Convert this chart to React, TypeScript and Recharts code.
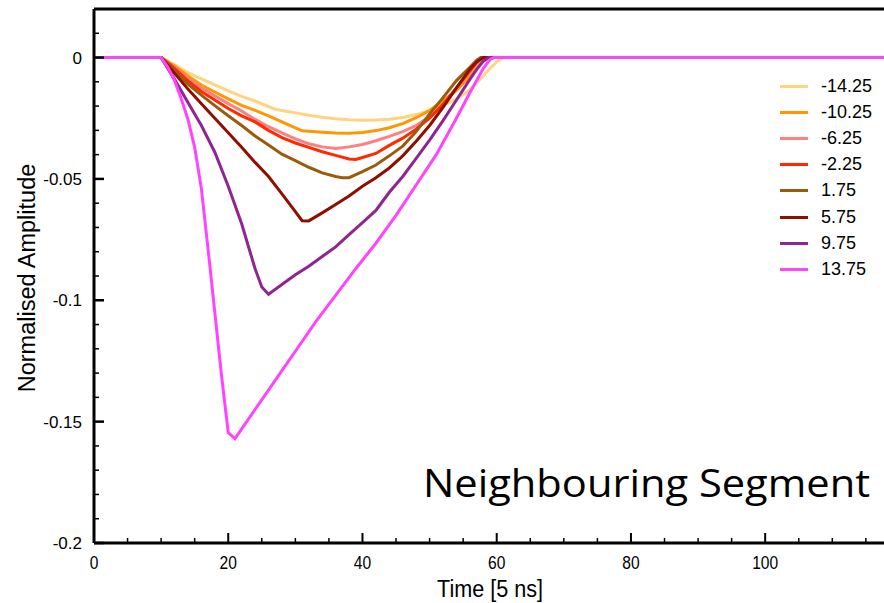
import { LineChart, Line, XAxis, YAxis, ReferenceLine } from 'recharts'

// series names and colours, in drawing order
const labels = ['-14.25', '-10.25', '-6.25', '-2.25', '1.75', '5.75', '9.75', '13.75']
const colours = ['#FFD47E', '#FF9700', '#FF8080', '#FF2A00', '#9C5B0C', '#8E0F00', '#8F2590', '#FF44FF']

// [time (5 ns), normalised amplitude]
const p1425 = [[0, 0], [10, 0], [12, -0.003], [14, -0.0062], [16, -0.0088], [18, -0.0113], [20, -0.0137], [22, -0.016], [24, -0.0179], [26, -0.0202], [27, -0.0213], [28, -0.0218], [30, -0.0228], [32, -0.0238], [34, -0.0246], [36, -0.0252], [38, -0.0256], [40, -0.0258], [42, -0.0257], [44, -0.0254], [46, -0.0247], [48, -0.0235], [50, -0.0218], [52, -0.0196], [54, -0.0172], [56, -0.0133], [57, -0.0105], [58, -0.0075], [59, -0.0045], [60, -0.0017], [61, 0], [118, 0]]
const p1025 = [[0, 0], [10, 0], [12, -0.0035], [14, -0.0076], [16, -0.0113], [18, -0.0142], [20, -0.017], [22, -0.0197], [24, -0.0218], [26, -0.024], [28, -0.0265], [30, -0.029], [31, -0.0302], [32, -0.0304], [34, -0.0308], [36, -0.0311], [38, -0.0312], [40, -0.0309], [42, -0.0301], [44, -0.0289], [46, -0.0272], [48, -0.0248], [50, -0.0218], [52, -0.0178], [54, -0.0135], [56, -0.0078], [57, -0.0045], [58, -0.0012], [58.6, 0], [118, 0]]
const p625 = [[0, 0], [10, 0], [12, -0.004], [14, -0.0086], [16, -0.0125], [18, -0.0158], [20, -0.019], [22, -0.022], [24, -0.0255], [26, -0.0285], [28, -0.031], [30, -0.0335], [32, -0.0355], [34, -0.0368], [36, -0.0375], [38, -0.0368], [40, -0.0358], [42, -0.0343], [44, -0.0325], [46, -0.0305], [48, -0.028], [50, -0.0243], [52, -0.0193], [54, -0.0128], [56, -0.006], [57, -0.0025], [58, 0], [118, 0]]
const p225 = [[0, 0], [10, 0], [12, -0.0045], [14, -0.0096], [16, -0.014], [18, -0.0175], [20, -0.021], [22, -0.024], [24, -0.0265], [26, -0.03], [28, -0.033], [30, -0.0352], [32, -0.037], [34, -0.0388], [36, -0.0403], [38, -0.0418], [39, -0.042], [40, -0.0412], [42, -0.0395], [44, -0.0362], [46, -0.0332], [48, -0.0295], [50, -0.025], [52, -0.0193], [54, -0.0125], [56, -0.0055], [57, -0.002], [57.8, 0], [118, 0]]
const p175 = [[0, 0], [10, 0], [12, -0.0055], [14, -0.011], [16, -0.0155], [18, -0.0198], [20, -0.024], [22, -0.028], [24, -0.0323], [26, -0.036], [28, -0.0398], [30, -0.0425], [32, -0.0452], [34, -0.0475], [36, -0.049], [37, -0.0495], [38, -0.0495], [40, -0.047], [42, -0.0443], [44, -0.0405], [46, -0.0365], [48, -0.0305], [50, -0.0232], [52, -0.0165], [54, -0.0095], [56, -0.004], [57, -0.0012], [57.6, 0], [118, 0]]
const p575 = [[0, 0], [10, 0], [12, -0.0065], [14, -0.013], [16, -0.019], [18, -0.025], [20, -0.031], [22, -0.037], [24, -0.0432], [26, -0.049], [28, -0.0562], [30, -0.0635], [31, -0.0672], [32, -0.0673], [34, -0.064], [36, -0.0605], [38, -0.057], [40, -0.053], [42, -0.0495], [44, -0.0455], [46, -0.0405], [48, -0.0345], [50, -0.028], [52, -0.0205], [54, -0.0125], [56, -0.0048], [57, -0.0018], [58, 0], [118, 0]]
const p975 = [[0, 0], [10, 0], [12, -0.009], [14, -0.0185], [16, -0.028], [18, -0.039], [20, -0.053], [22, -0.0685], [24, -0.087], [25, -0.0945], [26, -0.0975], [28, -0.0935], [30, -0.0895], [32, -0.086], [34, -0.082], [36, -0.078], [38, -0.073], [40, -0.068], [42, -0.063], [44, -0.0555], [46, -0.049], [48, -0.0415], [50, -0.034], [52, -0.026], [54, -0.0175], [56, -0.009], [57, -0.005], [58, -0.0015], [58.8, 0], [118, 0]]
const p1375 = [[0, 0], [10, 0], [11, -0.004], [12, -0.0095], [13, -0.017], [14, -0.0255], [15, -0.037], [16, -0.054], [17, -0.079], [18, -0.105], [19, -0.131], [20, -0.1545], [21, -0.157], [24, -0.145], [27, -0.133], [30, -0.121], [33, -0.109], [36, -0.098], [39, -0.087], [42, -0.0765], [45, -0.065], [48, -0.0525], [51, -0.04], [54, -0.025], [56, -0.0145], [57, -0.0095], [58, -0.0045], [59, -0.0008], [59.6, 0], [118, 0]]

const seriesPoints = [p1425, p1025, p625, p225, p175, p575, p975, p1375]

const xTicks = [0, 5, 10, 15, 20, 25, 30, 35, 40, 45, 50, 55, 60, 65, 70, 75, 80, 85, 90, 95, 100, 105, 110, 115]
const xLabels = [0, 20, 40, 60, 80, 100]
const yTicks = [0.01, 0, -0.01, -0.02, -0.03, -0.04, -0.05, -0.06, -0.07, -0.08, -0.09, -0.1, -0.11, -0.12, -0.13, -0.14, -0.15, -0.16, -0.17, -0.18, -0.19, -0.2]
const yLabels = [0, -0.05, -0.1, -0.15, -0.2]

const FONT = '"Liberation Sans", Arial, sans-serif'

function XTick(props: any) {
  const { x, y, payload } = props
  const major = xLabels.includes(payload.value)
  return (
    <g>
      <line x1={x} x2={x} y1={y} y2={y - (major ? 10 : 5)} stroke="#000" strokeWidth={major ? 2 : 1.5} />
      {major && (
        <text transform={`translate(${x},${y + 26}) scale(0.82,1)`} textAnchor="middle" fontSize={19} fontFamily={FONT} fill="#000">
          {payload.value}
        </text>
      )}
    </g>
  )
}

function YTick(props: any) {
  const { x, y, payload } = props
  const major = yLabels.includes(payload.value)
  return (
    <g>
      <line x1={x} x2={x + (major ? 10 : 5)} y1={y} y2={y} stroke="#000" strokeWidth={major ? 2.5 : 1.5} />
      {major && (
        <text x={x - 12} y={y + 6} textAnchor="end" fontSize={17} fontFamily={FONT} fill="#000">
          {String(payload.value)}
        </text>
      )}
    </g>
  )
}

// legend kept outside the chart so it does not take room from the plot
function LegendBox() {
  return (
    <div style={{ position: 'absolute', left: 780, top: 73, fontFamily: FONT, fontSize: 18, color: '#000' }}>
      {labels.map((name, i) => (
        <div key={name} style={{ display: 'flex', alignItems: 'center', height: 26.2 }}>
          <span style={{ display: 'inline-block', width: 28, height: 3, background: colours[i], marginRight: 13 }} />
          <span>{name}</span>
        </div>
      ))}
    </div>
  )
}

export default function App() {
  return (
    <div style={{ position: 'absolute', left: 0, top: 0, width: 884, height: 603, background: '#fff', overflow: 'hidden' }}>
      <LineChart width={886} height={603} margin={{ top: 9, right: 0, bottom: 0, left: 0 }}>
        <XAxis
          dataKey="t"
          type="number"
          domain={[0, 118]}
          ticks={xTicks}
          interval={0}
          tickSize={0}
          tickMargin={0}
          tickLine={false}
          tick={(p: any) => <XTick {...p} />}
          axisLine={{ stroke: '#000', strokeWidth: 3 }}
          height={60}
          allowDataOverflow
          label={{
            content: () => (
              <text transform="translate(490,597) scale(0.9,1)" textAnchor="middle" fontSize={24} fontFamily={FONT} fill="#000">
                Time [5 ns]
              </text>
            ),
          }}
        />
        <YAxis
          type="number"
          domain={[-0.2, 0.02]}
          ticks={yTicks}
          interval={0}
          tickSize={0}
          tickMargin={0}
          tickLine={false}
          tick={(p: any) => <YTick {...p} />}
          axisLine={{ stroke: '#000', strokeWidth: 3 }}
          width={94}
          allowDataOverflow
          label={{
            content: () => (
              <text transform="translate(35,278) rotate(-90)" textAnchor="middle" fontSize={23.5} fontFamily={FONT} fill="#000">
                Normalised Amplitude
              </text>
            ),
          }}
        />
        <ReferenceLine y={0.02} stroke="#000" strokeWidth={3} />
        {seriesPoints.map((pts, i) => (
          <Line
            key={labels[i]}
            data={pts.map(([t, v]) => ({ t, v }))}
            dataKey="v"
            name={labels[i]}
            stroke={colours[i]}
            strokeWidth={3}
            dot={false}
            activeDot={false}
            isAnimationActive={false}
          />
        ))}
      </LineChart>
      <LegendBox />
      <svg width={884} height={603} style={{ position: 'absolute', left: 0, top: 0, pointerEvents: 'none' }}>
        <text x={423} y={497} fontSize={38} fontFamily='"Open Sans", sans-serif' textLength={447} lengthAdjust="spacingAndGlyphs" fill="#000">
          Neighbouring Segment
        </text>
      </svg>
    </div>
  )
}
